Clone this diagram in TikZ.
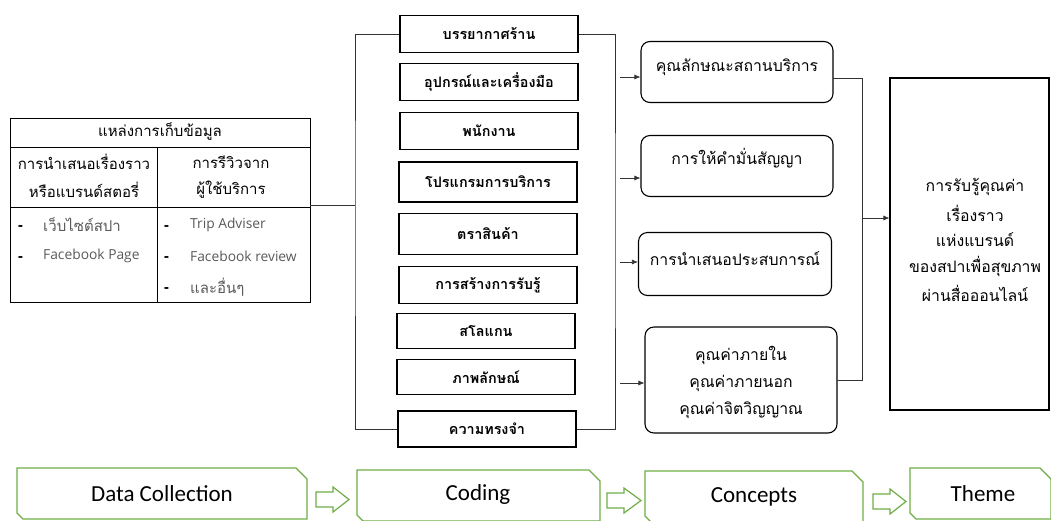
\documentclass[tikz,border=0pt]{standalone}
\usepackage{fontspec}
\setmainfont{Carlito}
\newfontfamily\thai[Script=Thai]{Loma}
\newfontfamily\opens{Open Sans}
\usetikzlibrary{arrows.meta}
\definecolor{dgreen}{HTML}{70AD47}
\definecolor{lgray}{HTML}{595959}
\tikzset{
  codebox/.style={draw, line width=1.1pt, minimum width=178pt, minimum height=37pt, inner sep=0pt, font=\thai\bfseries\fontsize{14.4}{16}\selectfont},
  conbox/.style={draw, line width=1.1pt, rounded corners=9pt, inner sep=0pt},
  thtext/.style={inner sep=0pt, font=\thai\fontsize{15}{17}\selectfont},
  ctext/.style={inner sep=0pt, font=\thai\fontsize{15.8}{17}\selectfont},
  item/.style={inner sep=0pt, anchor=west, text=lgray, font=\opens\fontsize{13.8}{15}\selectfont},
  thitem/.style={inner sep=0pt, anchor=west, text=lgray, font=\thai\fontsize{15}{17}\selectfont},
  bullet/.style={inner sep=0pt, anchor=base west, font=\opens\bfseries\fontsize{15}{17}\selectfont},
  conn/.style={draw=black!80, line width=0.7pt},
  arr/.style={conn, -{Latex[length=6pt,width=5pt]}},
  stage/.style={draw=dgreen, line width=1.3pt},
  stagetext/.style={inner sep=0pt, font=\fontsize{23}{26}\selectfont},
  hollow/.style={draw=dgreen, line width=1.2pt, fill=white},
}
\begin{document}
\begin{tikzpicture}[x=1pt,y=-1pt]
\useasboundingbox (0,0) rectangle (1051,520);

% ---- table ----
\node[draw, line width=0.8pt, minimum width=300pt, minimum height=184pt, inner sep=0pt] (tbl) at (160,210) {};
\draw[line width=0.8pt] (10,147) -- (310,147);
\draw[line width=0.8pt] (10,207) -- (310,207);
\draw[line width=0.8pt] (157,147) -- (157,302);
\node[thtext] (th0) at (160,132) {แหล่งการเก็บข้อมูล};
\node[thtext] (th1) at (84,162) {การนำเสนอเรื่องราว};
\node[thtext] (th2) at (84,190) {หรือแบรนด์สตอรี่};
\node[thtext] (th3) at (231,162) {การรีวิวจาก};
\node[thtext] (th4) at (231,190) {ผู้ใช้บริการ};
\node[bullet] (d1) at (18,230) {-};
\node[thitem] (i1) at (43,225) {เว็บไซต์สปา};
\node[bullet] (d2) at (18,261) {-};
\node[item] (i2) at (43,256) {Facebook Page};
\node[bullet] (d3) at (164,230) {-};
\node[item] (i3) at (190,225) {Trip Adviser};
\node[bullet] (d4) at (164,261) {-};
\node[item] (i4) at (190,256) {Facebook review};
\node[bullet] (d5) at (164,292) {-};
\node[thitem] (i5) at (190,287) {และอื่นๆ};

% ---- coding boxes ----
\node[codebox] (b1) at (489,34) {บรรยากาศร้าน};
\node[codebox] (b2) at (489,82) {อุปกรณ์และเครื่องมือ};
\node[codebox] (b3) at (489,131) {พนักงาน};
\node[codebox, minimum height=40pt] (b4) at (488,182) {โปรแกรมการบริการ};
\node[codebox, minimum height=41pt] (b5) at (488,234) {ตราสินค้า};
\node[codebox] (b6) at (488,285) {การสร้างการรับรู้};
\node[codebox, minimum height=35pt] (b7) at (486,331) {สโลแกน};
\node[codebox, minimum height=35pt] (b8) at (486,377) {ภาพลักษณ์};
\node[codebox, minimum height=36pt] (b9) at (487,429) {ความทรงจำ};

% left bracket
\coordinate (lb) at (355,205);
\coordinate (tblout) at (310,205);
\draw[conn] (b1.west) -| (lb) |- (b9.west);
\draw[conn] (tblout) -- (lb);
% right bracket
\coordinate (rb) at (615,230);
\draw[conn] (b1.east) -| (rb) |- (b9.east);

% ---- concept boxes ----
\node[conbox, minimum width=192pt, minimum height=61pt] (cA) at (737,72) {};
\node[conbox, minimum width=192pt, minimum height=61pt] (cB) at (737,166) {};
\node[conbox, minimum width=193pt, minimum height=63pt] (cC) at (735,264) {};
\node[conbox, minimum width=192pt, minimum height=106pt] (cD) at (741,380) {};
\node[ctext] (tA) at (737,67) {คุณลักษณะสถานบริการ};
\node[ctext] (tB) at (737,158) {การให้คำมั่นสัญญา};
\node[ctext] (tC) at (735,259) {การนำเสนอประสบการณ์};
\node[ctext] (tD1) at (741,355) {คุณค่าภายใน};
\node[ctext] (tD2) at (741,383) {คุณค่าภายนอก};
\node[ctext] (tD3) at (741,410) {คุณค่าจิตวิญญาณ};

\coordinate (aA) at (620,77);
\coordinate (aB) at (620,178);
\coordinate (aC) at (620,262);
\coordinate (aD) at (620,383);
\draw[arr] (aA) -- (aA -| cA.west);
\draw[arr] (aB) -- (aB -| cB.west);
\draw[arr] (aC) -- (aC -| cC.west);
\draw[arr] (aD) -- (aD -| cD.west);

% ---- theme box ----
\node[draw, line width=1.1pt, minimum width=159pt, minimum height=332pt, inner sep=0pt] (th) at (969.5,244) {};
\node[ctext] (tt1) at (975,187) {การรับรู้คุณค่า};
\node[ctext] (tt2) at (975,213) {เรื่องราว};
\node[ctext] (tt3) at (975,240) {แห่งแบรนด์};
\node[ctext] (tt4) at (975,266) {ของสปาเพื่อสุขภาพ};
\node[ctext] (tt5) at (975,293) {ผ่านสื่อออนไลน์};

\coordinate (rb2) at (862,218);
\coordinate (cAo) at (833,78);
\coordinate (cDo) at (837,380);
\draw[conn] (cAo) -| (rb2) |- (cDo);
\draw[arr] (rb2) -- (rb2 -| th.west);

% ---- bottom stages ----
\draw[stage] (17,468) -- (296,468) -- (307,479) -- (307,519) -- (23,519) -- (17,513) -- cycle;
\draw[stage] (357,470) -- (589,470) -- (600,481) -- (600,521) -- (363,521) -- (357,515) -- cycle;
\draw[stage] (645,471) -- (852,471) -- (863,482) -- (863,522) -- (651,522) -- (645,516) -- cycle;
\draw[stage] (910,468) -- (1040,468) -- (1051,479) -- (1051,519) -- (916,519) -- (910,513) -- cycle;
\node[stagetext] (s1) at (162,494) {Data Collection};
\node[stagetext] (s2) at (478,494) {Coding};
\node[stagetext] (s3) at (754,497) {Concepts};
\node[stagetext] (s4) at (983,494) {Theme};

% hollow arrows
\draw[hollow] (316,492) -- (333,492) -- (333,487) -- (349,499.5) -- (333,512) -- (333,507) -- (316,507) -- cycle;
\draw[hollow] (607,493) -- (624,493) -- (624,488) -- (641,500.5) -- (624,513) -- (624,508) -- (607,508) -- cycle;
\draw[hollow] (873,494) -- (890,494) -- (890,489) -- (906,501.5) -- (890,514) -- (890,509) -- (873,509) -- cycle;
\end{tikzpicture}
\end{document}
